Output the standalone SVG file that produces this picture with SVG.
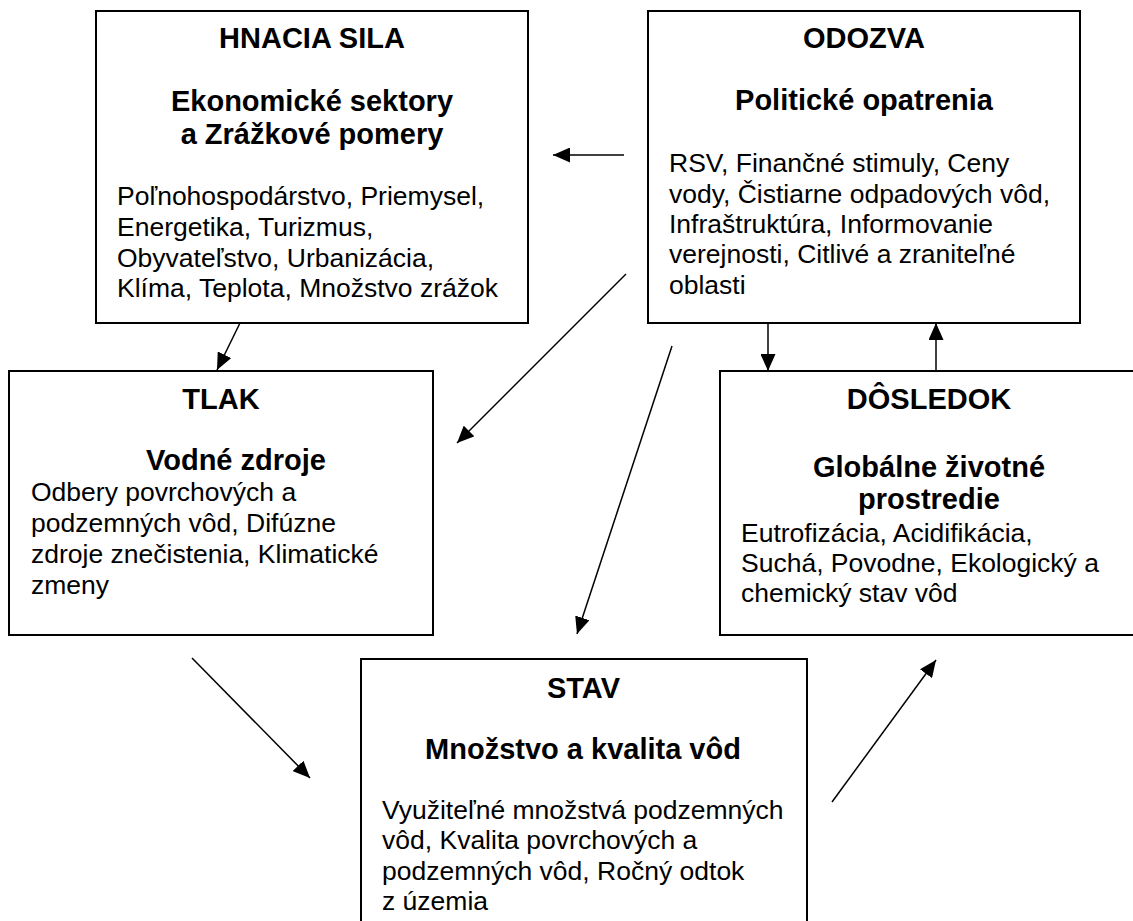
<svg xmlns="http://www.w3.org/2000/svg" width="1133" height="921" viewBox="0 0 1133 921">
<style>
.box{fill:#fff;stroke:#000;stroke-width:2}
.t{font-family:"Liberation Sans",Arial,sans-serif;font-weight:bold;font-size:29px;text-anchor:middle;fill:#000}
.b{font-family:"Liberation Sans",Arial,sans-serif;font-size:26.5px;fill:#000}
.c{stroke:#000;stroke-width:1.5;fill:none;marker-end:url(#ah)}
</style>
<defs>
<marker id="ah" markerUnits="userSpaceOnUse" markerWidth="17" markerHeight="15" viewBox="0 0 17 15" refX="17" refY="7.5" orient="auto">
<path d="M0,0 L17,7.5 L0,15 z" fill="#000"/>
</marker>
</defs>
<rect width="1133" height="921" fill="#fff"/>
<g id="hnacia">
<rect class="box" x="96" y="11" width="432" height="312"/>
<text class="t" x="312" y="48">HNACIA SILA</text>
<text class="t" x="312" y="111">Ekonomické sektory</text>
<text class="t" x="312" y="144">a Zrážkové pomery</text>
<text class="b" x="117" y="205">Poľnohospodárstvo, Priemysel,</text>
<text class="b" x="117" y="235.5">Energetika, Turizmus,</text>
<text class="b" x="117" y="266.5">Obyvateľstvo, Urbanizácia,</text>
<text class="b" x="117" y="297">Klíma, Teplota, Množstvo zrážok</text>
</g>
<g id="odozva">
<rect class="box" x="648" y="11" width="432" height="312"/>
<text class="t" x="864" y="48">ODOZVA</text>
<text class="t" x="864" y="110">Politické opatrenia</text>
<text class="b" x="669" y="172">RSV, Finančné stimuly, Ceny</text>
<text class="b" x="669" y="202.5">vody, Čistiarne odpadových vôd,</text>
<text class="b" x="669" y="233">Infraštruktúra, Informovanie</text>
<text class="b" x="669" y="263">verejnosti, Citlivé a zraniteľné</text>
<text class="b" x="669" y="294">oblasti</text>
</g>
<g id="tlak">
<rect class="box" x="9" y="371" width="424" height="264"/>
<text class="t" x="221" y="409">TLAK</text>
<text class="t" x="236" y="470">Vodné zdroje</text>
<text class="b" x="31" y="501">Odbery povrchových a</text>
<text class="b" x="31" y="532">podzemných vôd, Difúzne</text>
<text class="b" x="31" y="563">zdroje znečistenia, Klimatické</text>
<text class="b" x="31" y="593.5">zmeny</text>
</g>
<g id="dosledok">
<rect class="box" x="720" y="371" width="420" height="264"/>
<text class="t" x="929" y="409">DÔSLEDOK</text>
<text class="t" x="929" y="476.5">Globálne životné</text>
<text class="t" x="929" y="509">prostredie</text>
<text class="b" x="741" y="541.5">Eutrofizácia, Acidifikácia,</text>
<text class="b" x="741" y="572">Suchá, Povodne, Ekologický a</text>
<text class="b" x="741" y="602">chemický stav vôd</text>
</g>
<g id="stav">
<rect class="box" x="361" y="659" width="446" height="280"/>
<text class="t" x="583.5" y="698">STAV</text>
<text class="t" x="583" y="758.5">Množstvo a kvalita vôd</text>
<text class="b" x="382" y="818.5">Využiteľné množstvá podzemných</text>
<text class="b" x="382" y="848.5">vôd, Kvalita povrchových a</text>
<text class="b" x="382" y="880">podzemných vôd, Ročný odtok</text>
<text class="b" x="382" y="910">z územia</text>
</g>
<g id="connectors">
<line class="c" x1="624" y1="155" x2="553" y2="155"/>
<line class="c" x1="240" y1="323" x2="217" y2="370"/>
<line class="c" x1="626" y1="274" x2="457" y2="443"/>
<line class="c" x1="672" y1="346" x2="577" y2="634"/>
<line class="c" x1="768" y1="323" x2="768" y2="371"/>
<line class="c" x1="936" y1="371" x2="936" y2="323"/>
<line class="c" x1="192" y1="658" x2="310" y2="778"/>
<line class="c" x1="832" y1="802" x2="936" y2="660"/>
</g>
</svg>
